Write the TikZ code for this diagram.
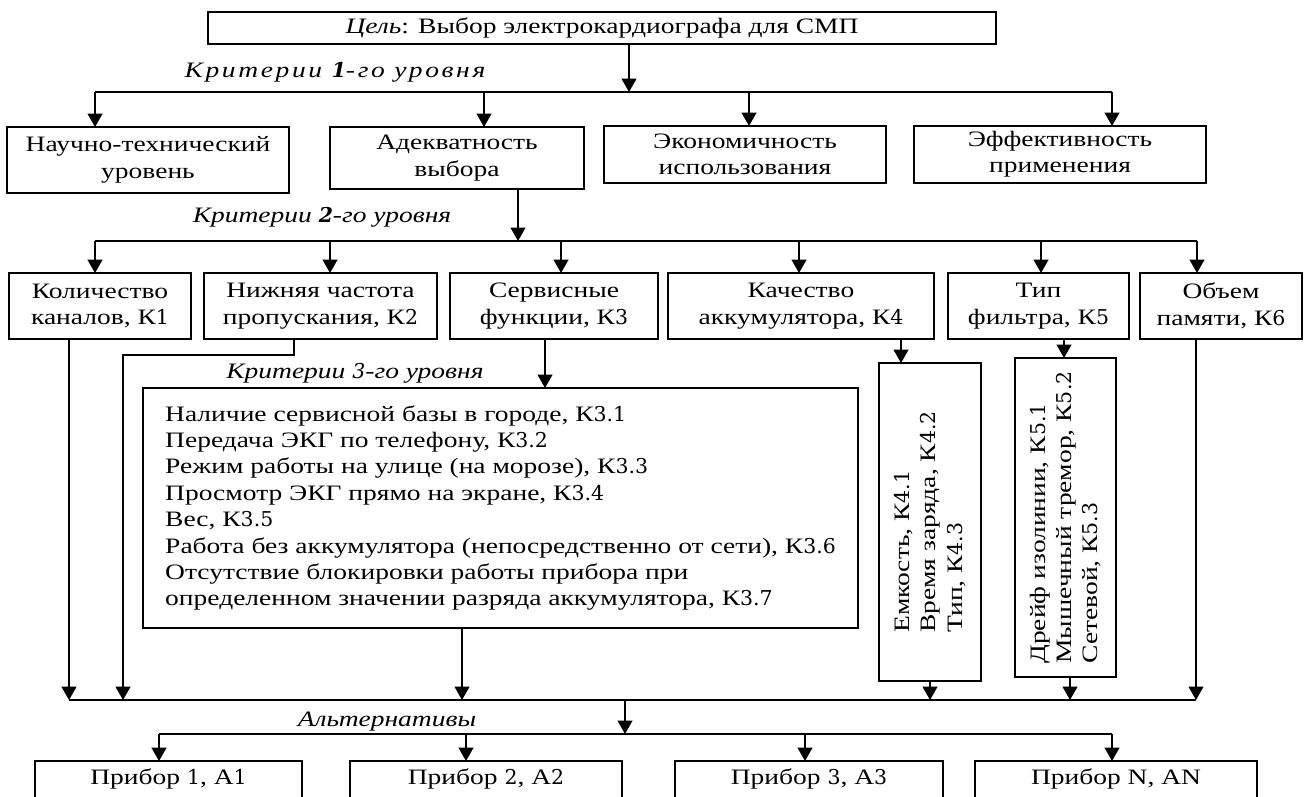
\documentclass[tikz,border=0pt]{standalone}
\usepackage{fontspec}
\setmainfont{Liberation Serif}[FakeStretch=1.25]
\newfontfamily\dgf{DejaVu Serif}[Scale=0.93]
\newcommand\dg[1]{{\dgf #1}}
\usetikzlibrary{arrows.meta}
\newcommand\rbox[6]{\node[bx,minimum width={(#4-#2)*0.75pt},minimum height={(#5-#3)*0.75pt}] (#1) at ({(#2+#4)/2},{(#3+#5)/2}) {#6};}
\begin{document}
\begin{tikzpicture}[x=0.75pt,y=-0.75pt,
  bx/.style={draw,line width=1.4pt,inner sep=0pt,outer sep=0pt,align=center,font=\fontsize{16.5}{19.8}\selectfont},
  lbl/.style={inner sep=0pt,font=\fontsize{16.5}{19.8}\selectfont\itshape},
  ln/.style={line width=1.4pt},
  arr/.style={line width=1.4pt,-{Triangle[width=11pt,length=10pt]}}]
\useasboundingbox (0,0) rectangle (1308,796);
\fill[white] (0,0) rectangle (1308,796);
\clip (0,0) rectangle (1308,796);

% goal and level 1
\rbox{goal}{208}{12}{996}{44}{\textit{Цель}: Выбор электрокардиографа для СМП}
\rbox{n1}{7}{127}{289}{193}{Научно-технический\\уровень}
\rbox{n2}{330}{127}{584}{189}{Адекватность\\выбора}
\rbox{n3}{604}{126}{886}{183}{Экономичность\\использования}
\rbox{n4}{914}{126}{1206}{183}{Эффективность\\применения}
\node[lbl] (l1) at (335,72) {\addfontfeature{LetterSpace=12}Критерии \textbf{\dg{1}}-го уровня};

\coordinate (b1a) at (95,92);
\coordinate (b1b) at (484,92);
\coordinate (b1g) at (629,92);
\coordinate (b1c) at (749,92);
\coordinate (b1d) at (1112,92);
\draw[ln] (b1a) -- (b1d);
\draw[arr] (goal.south -| b1g) -- (b1g);
\draw[arr] (b1a) -- (n1.north -| b1a);
\draw[arr] (b1b) -- (n2.north -| b1b);
\draw[arr] (b1c) -- (n3.north -| b1c);
\draw[arr] (b1d) -- (n4.north -| b1d);

% level 2
\rbox{k1}{9}{273}{191}{339}{Количество\\каналов, К\dg{1}}
\rbox{k2}{204}{273}{437}{339}{Нижняя частота\\пропускания, К\dg{2}}
\rbox{k3}{450}{273}{658}{339}{Сервисные\\функции, К\dg{3}}
\rbox{k4}{668}{273}{934}{339}{Качество\\аккумулятора, К\dg{4}}
\rbox{k5}{948}{273}{1129}{339}{Тип\\фильтра, К\dg{5}}
\rbox{k6}{1140}{273}{1302}{339}{Объем\\памяти, К\dg{6}}
\node[lbl] (l2) at (322,217) {Критерии \textbf{\dg{2}}-го уровня};

\coordinate (b2a) at (95,241);
\coordinate (b2b) at (330,241);
\coordinate (b2n) at (518,241);
\coordinate (b2c) at (561,241);
\coordinate (b2d) at (799,241);
\coordinate (b2e) at (1041,241);
\coordinate (b2f) at (1197,241);
\draw[ln] (b2a) -- (b2f);
\draw[arr] (n2.south -| b2n) -- (b2n);
\draw[arr] (b2a) -- (k1.north -| b2a);
\draw[arr] (b2b) -- (k2.north -| b2b);
\draw[arr] (b2c) -- (k3.north -| b2c);
\draw[arr] (b2d) -- (k4.north -| b2d);
\draw[arr] (b2e) -- (k5.north -| b2e);
\draw[arr] (b2f) -- (k6.north -| b2f);

% level 3
\node[bx,align=left,minimum width={715*0.75pt},minimum height={240*0.75pt}] (k3l) at (500.5,508)
 {Наличие сервисной базы в городе, К\dg{3.1}\\
  Передача ЭКГ по телефону, К\dg{3.2}\\
  Режим работы на улице (на морозе), К\dg{3.3}\\
  Просмотр ЭКГ прямо на экране, К\dg{3.4}\\
  Вес, К\dg{3.5}\\
  Работа без аккумулятора (непосредственно от сети), К\dg{3.6}\\
  Отсутствие блокировки работы прибора при\\
  определенном значении разряда аккумулятора, К\dg{3.7}};
\node[bx,rotate=90,align=left,minimum width={318*0.75pt},minimum height={102*0.75pt}] (k4l) at (930,522)
 {Емкость, К\dg{4.1}\\Время заряда, К\dg{4.2}\\Тип, К\dg{4.3}};
\node[bx,rotate=90,align=left,minimum width={319*0.75pt},minimum height={101*0.75pt}] (k5l) at (1065.5,517.5)
 {Дрейф изолинии, К\dg{5.1}\\Мышечный тремор, К\dg{5.2}\\Сетевой, К\dg{5.3}};
\node[lbl] (l3) at (355,373) {Критерии \dg{3}-го уровня};

\coordinate (c3) at (545,0);
\coordinate (c4) at (901,0);
\coordinate (c5) at (1064,0);
\draw[arr] (k3.south -| c3) -- (k3l.north -| c3);
\draw[arr] (k4.south -| c4) -- (k4l.east -| c4);
\draw[arr] (k5.south -| c5) -- (k5l.east -| c5);

% collecting bus
\coordinate (b3a) at (69,700);
\coordinate (b3b) at (123,700);
\coordinate (b3c) at (462,700);
\coordinate (b3m) at (625,700);
\coordinate (b3d) at (930,700);
\coordinate (b3e) at (1070,700);
\coordinate (b3f) at (1196,700);
\coordinate (k2t) at (294,355);
\coordinate (k2u) at (123,355);
\draw[ln] (b3a) -- (b3f);
\draw[arr] (k1.south -| b3a) -- (b3a);
\draw[arr] (k2.south -| k2t) -- (k2t) -- (k2u) -- (b3b);
\draw[arr] (k3l.south -| b3c) -- (b3c);
\draw[arr] (k4l.west -| b3d) -- (b3d);
\draw[arr] (k5l.west -| b3e) -- (b3e);
\draw[arr] (k6.south -| b3f) -- (b3f);

% alternatives
\coordinate (b4m) at (625,734);
\coordinate (b4a) at (159,734);
\coordinate (b4b) at (466,734);
\coordinate (b4c) at (805,734);
\coordinate (b4d) at (1112,734);
\draw[arr] (b3m) -- (b4m);
\draw[ln] (b4a) -- (b4d);
\node[lbl] (l4) at (387,722) {Альтернативы};
\node[bx,anchor=north,inner ysep=6pt,text height=11.5pt,text depth=40pt,minimum width={267*0.75pt}] (p1) at (168.5,761) {Прибор \dg{1}, А\dg{1}};
\node[bx,anchor=north,inner ysep=6pt,text height=11.5pt,text depth=40pt,minimum width={272*0.75pt}] (p2) at (486,761) {Прибор \dg{2}, А\dg{2}};
\node[bx,anchor=north,inner ysep=6pt,text height=11.5pt,text depth=40pt,minimum width={268*0.75pt}] (p3) at (809,761) {Прибор \dg{3}, А\dg{3}};
\node[bx,anchor=north,inner ysep=6pt,text height=11.5pt,text depth=40pt,minimum width={282*0.75pt}] (p4) at (1116,761) {Прибор N, АN};
\draw[arr] (b4a) -- (p1.north -| b4a);
\draw[arr] (b4b) -- (p2.north -| b4b);
\draw[arr] (b4c) -- (p3.north -| b4c);
\draw[arr] (b4d) -- (p4.north -| b4d);
\end{tikzpicture}
\end{document}
